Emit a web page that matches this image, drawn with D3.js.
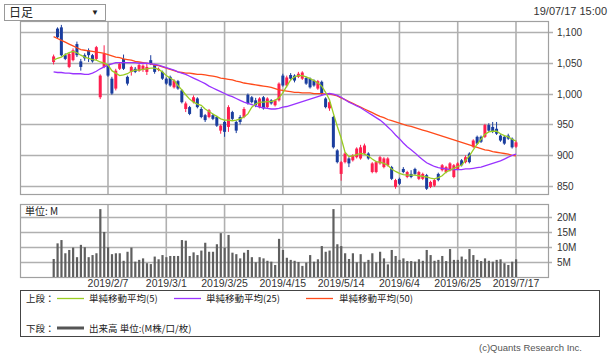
<!DOCTYPE html>
<html><head><meta charset="utf-8">
<script src="https://cdn.jsdelivr.net/npm/d3@7"></script>
<style>
body{margin:0;background:#fff}
svg{display:block}
text{font-family:"Liberation Sans",Arial,"Noto Sans CJK JP",sans-serif}
.jp{font-family:"Noto Sans CJK JP","Liberation Sans",sans-serif}
</style>
</head><body><svg id="c" width="610" height="358"></svg>
<script>
const dates = ["2019/1/18","2019/1/21","2019/1/22","2019/1/23","2019/1/24","2019/1/25","2019/1/28","2019/1/29","2019/1/30","2019/1/31",
"2019/2/1","2019/2/4","2019/2/5","2019/2/6","2019/2/7","2019/2/8","2019/2/12","2019/2/13","2019/2/14","2019/2/15",
"2019/2/18","2019/2/19","2019/2/20","2019/2/21","2019/2/22","2019/2/25","2019/2/26","2019/2/27","2019/2/28","2019/3/1",
"2019/3/4","2019/3/5","2019/3/6","2019/3/7","2019/3/8","2019/3/11","2019/3/12","2019/3/13","2019/3/14","2019/3/15",
"2019/3/18","2019/3/19","2019/3/20","2019/3/22","2019/3/25","2019/3/26","2019/3/27","2019/3/28","2019/3/29","2019/4/1",
"2019/4/2","2019/4/3","2019/4/4","2019/4/5","2019/4/8","2019/4/9","2019/4/10","2019/4/11","2019/4/12","2019/4/15",
"2019/4/16","2019/4/17","2019/4/18","2019/4/19","2019/4/22","2019/4/23","2019/4/24","2019/4/25","2019/4/26","2019/5/7",
"2019/5/8","2019/5/9","2019/5/10","2019/5/13","2019/5/14","2019/5/15","2019/5/16","2019/5/17","2019/5/20","2019/5/21",
"2019/5/22","2019/5/23","2019/5/24","2019/5/27","2019/5/28","2019/5/29","2019/5/30","2019/5/31","2019/6/3","2019/6/4",
"2019/6/5","2019/6/6","2019/6/7","2019/6/10","2019/6/11","2019/6/12","2019/6/13","2019/6/14","2019/6/17","2019/6/18",
"2019/6/19","2019/6/20","2019/6/21","2019/6/24","2019/6/25","2019/6/26","2019/6/27","2019/6/28","2019/7/1","2019/7/2",
"2019/7/3","2019/7/4","2019/7/5","2019/7/8","2019/7/9","2019/7/10","2019/7/11","2019/7/12","2019/7/16","2019/7/17"];

const openP = [1051,1105,1107,1062,1043,1054,1080,1052,1062,1070,
1062,1056,994,1043,1046,1024,1008,1040,1056,1027,
1035,1040,1037,1038,1035,1054,1046,1038,1035,1024,
1027,1010,1020,1005,975,978,986,992,975,965,
962,965,962,940,954,946,970,954,962,962,
998,994,989,978,994,978,989,981,989,1029,
1013,1030,1029,1027,1024,1025,1024,1021,1008,1019,
992,976,962,908,870,889,895,892,897,895,
903,903,873,873,887,881,884,881,849,862,
878,865,870,878,862,862,868,849,851,870,
876,873,876,865,878,892,889,903,914,930,
930,930,949,946,943,932,930,932,927,914];

const highP = [1063,1107,1111,1065,1066,1073,1084,1056,1065,1073,
1064,1077,1031,1078,1048,1027,1040,1051,1063,1029,
1045,1043,1048,1047,1048,1062,1048,1042,1037,1026,
1029,1023,1022,1007,987,980,997,994,978,967,
975,967,964,950,956,981,972,956,965,978,
1000,996,993,994,996,994,991,991,1018,1032,
1029,1033,1031,1035,1036,1027,1026,1023,1022,1021,
994,988,964,910,891,905,897,902,913,917,
919,905,889,891,899,897,897,883,862,864,
881,875,876,880,875,872,870,859,862,872,
886,883,889,886,889,894,900,905,926,932,
932,951,952,954,954,934,932,935,929,924];

const lowP = [1047,1089,1060,1054,1041,1052,1059,1037,1053,1051,
1050,1054,991,1041,1027,998,1005,1038,1038,1013,
1029,1033,1035,1035,1030,1046,1032,1036,1022,1014,
1011,1008,1006,984,970,965,984,976,960,954,
960,957,946,935,930,938,957,936,950,960,
982,984,978,976,974,976,982,979,987,1011,
1010,1021,1018,1025,1022,1014,1008,1011,1006,998,
976,972,911,887,859,887,881,890,895,893,
901,893,871,871,885,879,882,860,846,852,
871,863,863,868,860,860,844,847,849,858,
874,871,874,863,876,882,887,887,912,917,
920,928,938,936,933,922,917,925,911,912];

const closeP = [1060,1091,1062,1056,1064,1070,1062,1043,1057,1062,
1052,1075,1029,1064,1029,1000,1037,1048,1040,1016,
1043,1035,1046,1045,1043,1048,1035,1040,1024,1016,
1013,1021,1008,986,984,967,994,978,962,957,
973,959,948,948,938,978,959,940,954,975,
984,986,981,992,976,992,984,989,1016,1013,
1026,1024,1021,1032,1034,1016,1010,1013,1020,1000,
978,986,913,889,889,903,887,900,911,913,
916,895,887,889,897,895,895,862,860,854,
873,873,865,870,873,870,846,857,860,860,
884,881,887,884,887,884,897,889,924,919,
922,949,940,938,935,924,919,927,913,921];

const volumeM = [6.0,11.2,12.3,7.9,9.0,9.8,6.6,10.7,9.9,6.6,
7.3,7.9,22.6,15.0,9.9,7.6,7.9,7.9,5.4,8.4,
9.8,5.1,5.7,6.2,4.6,4.3,6.8,5.9,7.3,6.6,
7.0,7.0,7.0,12.3,12.1,7.0,8.2,7.3,8.8,11.4,
8.4,8.4,10.9,14.6,9.8,14.0,8.1,7.6,6.2,8.1,
9.0,6.6,4.9,6.6,6.2,5.4,5.1,4.0,12.7,9.0,
6.4,5.7,5.4,5.0,3.7,4.8,7.3,5.1,5.9,10.3,
8.4,8.8,22.6,10.9,10.3,7.9,6.0,7.9,4.9,7.6,
4.9,5.7,7.9,4.9,8.4,6.2,4.2,9.0,7.0,5.7,
6.2,5.3,5.3,5.1,5.9,5.4,9.0,7.3,5.4,5.7,
7.0,5.3,9.3,5.7,5.7,6.8,5.9,9.3,7.3,5.7,
5.3,6.2,5.4,5.1,5.7,5.9,4.6,4.0,5.1,5.9];

const ma5 = [1054,1057,1059,1063,1066,1068,1066,1062,1059,1057,
1055,1054,1051,1049,1046,1037,1033,1029,1030,1032,
1036,1038,1038,1039,1040,1041,1041,1039,1035,1029,
1025,1021,1013,1006,998,991,986,983,981,975,
971,967,963,959,957,957,956,957,959,962,
967,978,983,986,986,987,987,989,993,1001,
1012,1022,1027,1029,1029,1027,1024,1021,1017,1012,
1002,990,968,947,928,905,898,899,901,903,
902,899,894,890,889,887,884,878,874,871,
869,868,868,868,867,866,865,863,862,864,
867,873,876,879,882,884,892,899,909,918,
926,934,938,939,939,935,932,930,926,923];

const ma25 = [1035,1034,1034,1033,1033,1032,1032,1032,1031,1031,
1033,1036,1040,1043,1046,1048,1050,1050,1050,1050,
1050,1050,1049,1049,1049,1048,1047,1046,1044,1042,
1040,1038,1035,1033,1031,1028,1025,1022,1019,1016,
1012,1009,1006,1003,1000,997,995,992,989,986,
984,982,980,978,977,976,975,975,976,978,
979,981,983,985,987,989,991,993,995,997,
999,1000,999,997,994,990,986,983,980,977,
973,969,965,961,957,952,946,940,933,927,
920,914,909,904,898,893,888,885,882,880,
879,878,877,877,877,877,878,878,879,880,
881,883,885,887,889,891,894,897,900,902];

const ma50 = [1092,1089,1086,1083,1080,1077,1074,1071,1070,1069,
1068,1067,1066,1065,1063,1061,1059,1058,1056,1055,
1054,1052,1051,1050,1049,1048,1046,1045,1043,1041,
1039,1037,1035,1034,1033,1033,1032,1031,1031,1030,
1029,1028,1027,1025,1024,1023,1022,1020,1019,1017,
1016,1015,1014,1013,1012,1011,1010,1008,1006,1005,
1004,1003,1002,1002,1001,1001,1001,1000,1000,1000,
999,999,998,996,993,990,987,984,981,978,
975,972,969,966,963,961,958,956,954,952,
950,948,947,945,943,941,939,937,935,933,
931,929,927,925,923,921,919,917,915,913,
911,909,908,906,905,904,903,902,900,899];

const priceTicks = [850,900,950,1000,1050,1100];
const priceTickLabels = ["850","900","950","1,000","1,050","1,100"];
const volTicks = [5,10,15,20];
const volTickLabels = ["5M","10M","15M","20M"];
const dateTicks = ["2019/2/7","2019/3/1","2019/3/25","2019/4/15","2019/5/14","2019/6/4","2019/6/25","2019/7/17"];
const legendNames = ["単純移動平均(5)","単純移動平均(25)","単純移動平均(50)"];
const legendColors = ["#99cc22","#9933ff","#ff4a1a"];

const svg = d3.select("#c");
const L = 20, R = 548, T = 21, B = 194, VT = 204, VB = 277;
const x = d3.scalePoint().domain(dates).range([53.6, 516]);
const y = d3.scaleLinear().domain([837.5, 1117.3]).range([B, T]);
const yv = d3.scaleLinear().domain([0, 24.3]).range([VB, VT]);
const UP = "#ff1f4f", DOWN = "#1a3d9e", GRID = "#b0b0b0";

// header
svg.append("rect").attr("x",4.5).attr("y",4.5).attr("width",101).attr("height",16).attr("fill","#fff").attr("stroke","#999");
svg.append("text").attr("class","jp").attr("x",9).attr("y",17).attr("font-size",12).attr("fill","#222").text("日足");
svg.append("text").attr("x",91).attr("y",15).attr("font-size",8).attr("fill","#222").text("▼");
svg.append("text").attr("x",607).attr("y",15).attr("text-anchor","end").attr("font-size",11).attr("fill","#333").text("19/07/17 15:00");

// upper panel grid
const gU = svg.append("g");
gU.selectAll(".hg").data(priceTicks).join("line")
  .attr("x1",L).attr("x2",R+5).attr("y1",d=>Math.round(y(d))+0.5).attr("y2",d=>Math.round(y(d))+0.5)
  .attr("stroke",GRID).attr("stroke-width",1.6);
gU.selectAll(".vg").data(dateTicks).join("line")
  .attr("x1",d=>x(d)).attr("x2",d=>x(d)).attr("y1",T).attr("y2",B)
  .attr("stroke",GRID).attr("stroke-width",1.6);
gU.append("rect").attr("x",L+0.5).attr("y",T+0.5).attr("width",R-L).attr("height",B-T).attr("fill","none").attr("stroke","#a0a0a0").attr("stroke-width",1.2);
gU.selectAll(".pl").data(priceTicks).join("text")
  .attr("x",557).attr("y",d=>y(d)+4).attr("font-size",10).attr("fill","#333")
  .text((d,i)=>priceTickLabels[i]);

// candles
const idx = d3.range(dates.length);
const gC = svg.append("g");
gC.selectAll("line.w").data(idx).join("line")
  .attr("x1",i=>x(dates[i])).attr("x2",i=>x(dates[i]))
  .attr("y1",i=>y(highP[i])).attr("y2",i=>y(lowP[i]))
  .attr("stroke",i=>closeP[i]>=openP[i]?UP:DOWN).attr("stroke-width",1);
gC.selectAll("rect.b").data(idx).join("rect")
  .attr("x",i=>x(dates[i])-1.5).attr("width",3)
  .attr("y",i=>y(Math.max(openP[i],closeP[i])))
  .attr("height",i=>Math.max(1,Math.abs(y(openP[i])-y(closeP[i]))))
  .attr("fill",i=>closeP[i]>=openP[i]?UP:DOWN);

// moving averages
const line = arr => d3.line().x((d,i)=>x(dates[i])).y(d=>y(d)).curve(d3.curveLinear)(arr);
[ma50, ma25, ma5].forEach((arr,k)=>{
  const col = [legendColors[2],legendColors[1],legendColors[0]][k];
  svg.append("path").attr("d",line(arr)).attr("fill","none").attr("stroke",col).attr("stroke-width",1.3);
});

// volume panel
const gV = svg.append("g");
gV.selectAll(".vh").data(volTicks).join("line")
  .attr("x1",L).attr("x2",R+4).attr("y1",d=>Math.round(yv(d))+0.5).attr("y2",d=>Math.round(yv(d))+0.5)
  .attr("stroke",GRID).attr("stroke-width",1.4);
gV.selectAll(".vv").data(dateTicks).join("line")
  .attr("x1",d=>x(d)).attr("x2",d=>x(d)).attr("y1",VT).attr("y2",VB)
  .attr("stroke",GRID).attr("stroke-width",1.6);
gV.append("rect").attr("x",L+0.5).attr("y",VT+0.5).attr("width",R-L).attr("height",VB-VT).attr("fill","none").attr("stroke","#a0a0a0").attr("stroke-width",1.2);
gV.selectAll("rect.vb").data(idx).join("rect")
  .attr("x",i=>x(dates[i])-1).attr("width",2.2)
  .attr("y",i=>yv(volumeM[i])).attr("height",i=>VB-yv(volumeM[i]))
  .attr("fill","#5f5f5f");
gV.selectAll(".vl").data(volTicks).join("text")
  .attr("x",557).attr("y",d=>yv(d)+4).attr("font-size",10).attr("fill","#333")
  .text((d,i)=>volTickLabels[i]);
gV.append("text").attr("class","jp").attr("x",25).attr("y",215).attr("font-size",10).attr("fill","#222").text("単位: M");

// date labels
svg.selectAll(".dl").data(dateTicks).join("text")
  .attr("x",d=>x(d)).attr("y",287).attr("text-anchor","middle").attr("font-size",10.5).attr("fill","#333").text(d=>d);

// legend
svg.append("rect").attr("x",20.5).attr("y",290.5).attr("width",579).attr("height",46).attr("fill","none").attr("stroke","#444");
svg.append("text").attr("class","jp").attr("x",26).attr("y",302).attr("font-size",9.5).attr("fill","#222").text("上段：");
const legX = [[57,89],[174,206],[306,339]];
legendNames.forEach((n,k)=>{
  svg.append("line").attr("x1",legX[k][0]).attr("x2",legX[k][0]+27).attr("y1",298.5).attr("y2",298.5).attr("stroke",legendColors[k]).attr("stroke-width",1.3);
  svg.append("text").attr("class","jp").attr("x",legX[k][1]).attr("y",302).attr("font-size",9.5).attr("fill","#222").text(n);
});
svg.append("text").attr("class","jp").attr("x",26).attr("y",332).attr("font-size",9.5).attr("fill","#222").text("下段：");
svg.append("line").attr("x1",57).attr("x2",84).attr("y1",328).attr("y2",328).attr("stroke","#555").attr("stroke-width",3);
svg.append("text").attr("class","jp").attr("x",89).attr("y",332).attr("font-size",9.5).attr("fill","#222").text("出来高 単位:(M株/口/枚)");

svg.append("text").attr("x",582).attr("y",351).attr("text-anchor","end").attr("font-size",9.5).attr("fill","#555").text("(c)Quants Research Inc.");
</script></body></html>
